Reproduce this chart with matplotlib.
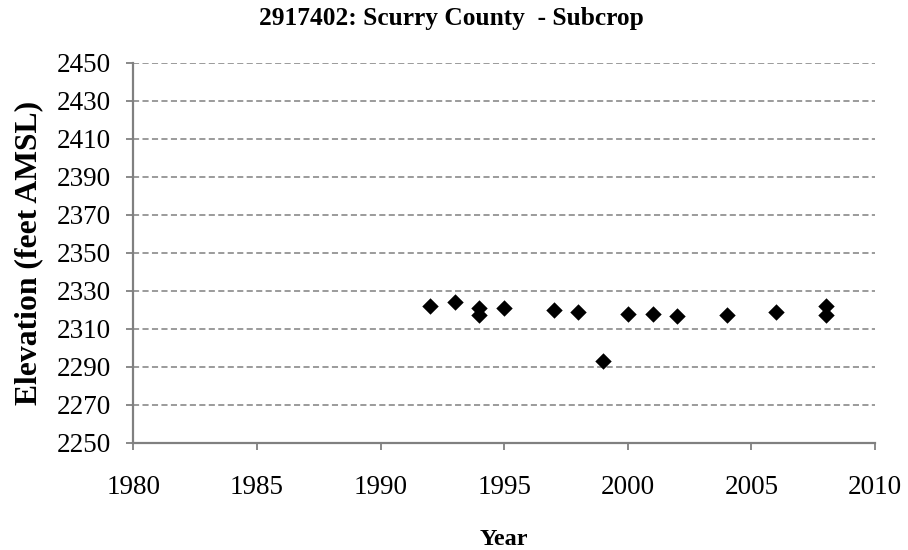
"""Scatter of measured elevations for well 2917402 (Scurry County, Subcrop)."""

import matplotlib

matplotlib.use("Agg")
import matplotlib.pyplot as plt

years = [1992, 1993, 1994, 1994, 1995, 1997, 1998, 1999, 2000, 2001, 2002, 2004, 2006, 2008, 2008]
elevation = [2322, 2324, 2321, 2317, 2321, 2320, 2319, 2293, 2318, 2318, 2316.5, 2317, 2319, 2322, 2317]

x_ticks = list(range(1980, 2011, 5))
y_ticks = list(range(2250, 2451, 20))

plt.rcParams["font.family"] = ["Liberation Serif", "DejaVu Serif"]

fig = plt.figure(figsize=(9.08, 5.5), dpi=100)
ax = fig.add_axes([0.1468, 0.195, 0.8169, 0.691])

ax.scatter(years, elevation, marker="D", s=70, color="black", zorder=3, linewidths=0)

ax.set_xlim(1980, 2010)
ax.set_ylim(2250, 2450)
ax.set_xticks(x_ticks)
ax.set_yticks(y_ticks)
ax.tick_params(axis="both", labelsize=19.5, color="#808080", length=5, width=1.3, direction="out")
ax.tick_params(axis="y", pad=11)
ax.tick_params(axis="x", pad=18)
ax.grid(axis="y", color="#808080", linestyle=(0, (4, 2.2)), linewidth=1.1)
ax.set_axisbelow(True)

for side in ("top", "right"):
    ax.spines[side].set_visible(False)
for side in ("left", "bottom"):
    ax.spines[side].set_color("#808080")
    ax.spines[side].set_linewidth(1.6)

ax.set_xlabel("Year", fontsize=17.5, fontweight="bold", labelpad=21)
ax.set_ylabel("Elevation (feet AMSL)", fontsize=22.8, fontweight="bold", labelpad=10)
fig.text(0.497, 0.966, "2917402: Scurry County  - Subcrop", ha="center", va="center",
         fontsize=18.3, fontweight="bold")

fig.savefig("out.png", dpi=100)
plt.close(fig)
